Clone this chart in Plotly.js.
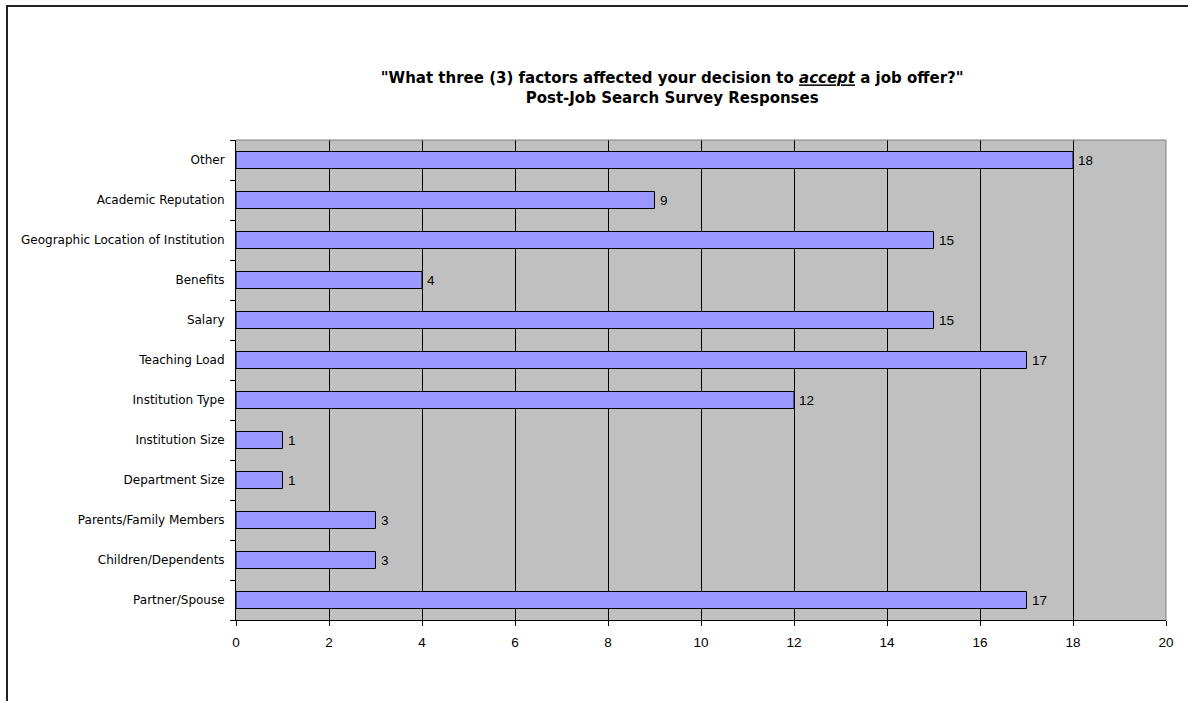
<!DOCTYPE html>
<html>
<head>
<meta charset="utf-8">
<script src="https://cdn.plot.ly/plotly-3.0.1.min.js"></script>
<style>
html,body{margin:0;padding:0;background:#fff;}
#frame{position:absolute;left:6px;top:5px;width:1300px;height:800px;border-left:2px solid #222;border-top:2px solid #222;pointer-events:none;z-index:5;}
#chart{position:absolute;left:0;top:0;width:1188px;height:701px;}
</style>
</head>
<body>
<div id="chart"></div>
<div id="frame"></div>
<script>
const categories = ["Partner/Spouse","Children/Dependents","Parents/Family Members","Department Size","Institution Size","Institution Type","Teaching Load","Salary","Benefits","Geographic Location of Institution","Academic Reputation","Other"];
const responses = [17,3,3,1,1,12,17,15,4,15,9,18];
const xTicks = [0,2,4,6,8,10,12,14,16,18,20];

const trace = {
  type:'bar', orientation:'h',
  x: responses, y: categories,
  marker:{color:'#9999FF', line:{color:'#000', width:1}},
  hoverinfo:'none'
};

const labels = responses.map((v,i)=>({
  x: v, y: categories[i], xref:'x', yref:'y',
  text: String(v), showarrow:false, xanchor:'left', yanchor:'middle', xshift:3,
  font:{family:'Liberation Sans, Arial', size:13.5, color:'#000'}
}));

const layout = {
  width:1188, height:701,
  margin:{l:236, r:22, t:140, b:81},
  paper_bgcolor:'#fff', plot_bgcolor:'#C0C0C0',
  bargap:0.575,
  showlegend:false,
  title:{
    text:'"What three (3) factors affected your decision to <i><span style="text-decoration:underline">accept</span></i> a job offer?"<br>Post-Job Search Survey Responses',
    font:{family:'DejaVu Sans', size:15, color:'#000', weight:'bold'},
    x:0.469, xanchor:'center', xref:'paper', y:0.881, yanchor:'top', yref:'container'
  },
  xaxis:{
    range:[0,20], tickvals:xTicks, ticktext:xTicks.map(String),
    showgrid:true, gridcolor:'#000', gridwidth:1, zeroline:false,
    showline:true, linecolor:'#000', linewidth:1,
    ticks:'outside', ticklen:5, tickcolor:'#000', ticklabelstandoff:5,
    tickfont:{family:'Liberation Sans, Arial', size:13.5, color:'#000'},
    fixedrange:true
  },
  yaxis:{
    type:'category', categoryorder:'array', categoryarray:categories,
    showgrid:false, zeroline:false,
    showline:true, linecolor:'#000', linewidth:1,
    ticks:'outside', tickson:'boundaries', ticklen:5, tickcolor:'#000', ticklabelstandoff:8,
    tickfont:{family:'DejaVu Sans', size:12, color:'#000'},
    fixedrange:true
  },
  annotations: labels,
  shapes:[
    {type:'line', xref:'paper', yref:'paper', x0:0, x1:1, y0:1, y1:1, line:{color:'#808080', width:1}},
    {type:'line', xref:'paper', yref:'paper', x0:1, x1:1, y0:0, y1:1, line:{color:'#808080', width:1}}
  ]
};

Plotly.newPlot('chart',[trace],layout,{displayModeBar:false, staticPlot:true});
</script>
</body>
</html>
